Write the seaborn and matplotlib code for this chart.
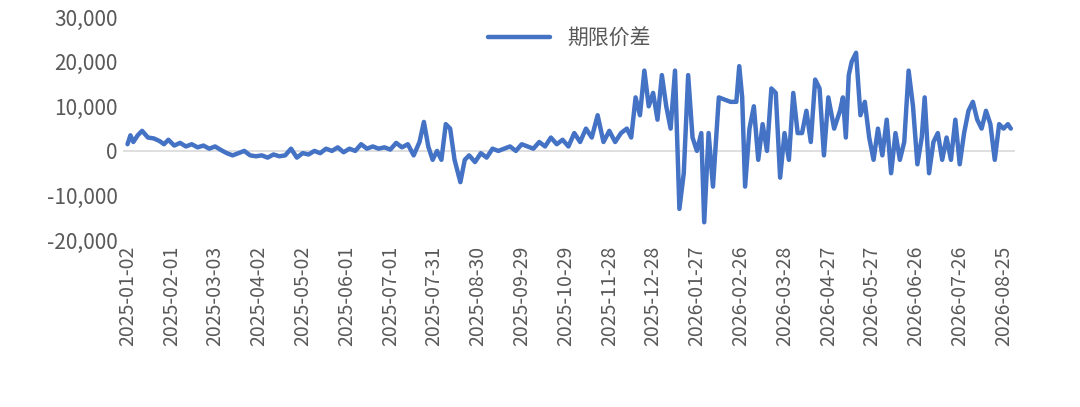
import pandas as pd
import matplotlib
matplotlib.use("Agg")
import matplotlib.pyplot as plt
import seaborn as sns

# day offset from 2025-01-02 and spread value
days = [0, 2, 4, 7, 10, 14, 18, 22, 25, 28, 32, 36, 40, 44, 48, 52, 56, 60, 64, 68,
        72, 76, 80, 84, 88, 92, 96, 100, 104, 108, 112, 116, 120, 124, 128, 132, 136, 140, 144, 148,
        152, 156, 160, 164, 168, 172, 176, 180, 184, 188, 192, 196, 200, 203, 206, 209, 212, 215, 218, 221,
        224, 228, 231, 234, 238, 242, 246, 250, 254, 258, 262, 266, 270, 274, 278, 282, 286, 290, 294, 298,
        302, 306, 310, 314, 318, 322, 326, 330, 334, 338, 342, 345, 348, 351, 354, 357, 360, 363, 366, 369,
        372, 375, 378, 381, 384, 387, 390, 393, 395, 398, 401, 405, 409, 413, 417, 419, 421, 423, 426, 429,
        432, 435, 438, 441, 444, 447, 450, 453, 456, 459, 462, 465, 468, 471, 474, 477, 480, 484, 488, 490,
        492, 494, 496, 499, 502, 505, 508, 511, 514, 517, 520, 523, 526, 529, 532, 535, 538, 541, 544, 546,
        549, 552, 555, 558, 561, 564, 567, 570, 573, 576, 579, 582, 585, 588, 591, 594, 597, 600, 603, 605]
values = [1500, 3500, 2000, 3500, 4500, 3000, 2800, 2200, 1500, 2500, 1200, 1800, 1000, 1500, 800, 1200, 500, 1000, 200, -500,
          -1000, -500, 0, -1000, -1200, -1000, -1500, -800, -1200, -1000, 500, -1500, -500, -800, 0, -500, 500, 0, 800, -300,
          500, 0, 1500, 500, 1000, 500, 800, 300, 1800, 800, 1500, -1000, 2000, 6500, 1000, -2000, 0, -2000, 6000, 5000,
          -2000, -7000, -2000, -1000, -2500, -500, -1500, 500, 0, 500, 1000, 0, 1500, 1000, 500, 2000, 1000, 3000, 1500, 2500,
          1000, 4000, 2000, 5000, 3000, 8000, 2000, 4500, 2000, 4000, 5000, 3000, 12000, 8000, 18000, 10000, 13000, 7000, 17000, 10000,
          5000, 18000, -13000, -5000, 17000, 3000, 0, 4000, -16000, 4000, -8000, 12000, 11500, 11000, 11000, 19000, 12000, -8000, 5000, 10000,
          -2000, 6000, 0, 14000, 13000, -6000, 4000, -2000, 13000, 4000, 4000, 9000, 2000, 16000, 14000, -1000, 12000, 5000, 9000, 12000,
          3000, 17000, 20000, 22000, 8000, 11000, 3000, -2000, 5000, -1000, 7000, -5000, 4000, -2000, 2000, 18000, 10000, -3000, 3000, 12000,
          -5000, 2000, 4000, -2000, 3000, -2000, 7000, -3000, 4000, 9000, 11000, 7000, 5000, 9000, 6000, -2000, 6000, 5000, 6000, 5000]
series_name = "期限价差"
tick_days = list(range(0, 601, 30))

start = pd.Timestamp("2025-01-02")
df = pd.DataFrame({"date": [start + pd.Timedelta(days=d) for d in days], "value": values})
ticks = [start + pd.Timedelta(days=d) for d in tick_days]

sns.set_theme(style="white")
plt.rcParams["font.family"] = ["Noto Sans CJK SC", "DejaVu Sans"]
plt.rcParams["axes.unicode_minus"] = False

fig = plt.figure(figsize=(10.8, 4.07), dpi=100)
ax = fig.add_axes([0.114, 0.41, 0.826, 0.548])
sns.lineplot(data=df, x="date", y="value", ax=ax, color="#4472C4", linewidth=3.2, label=series_name)
ax.axhline(0, color="#D9D9D9", linewidth=1.2, zorder=0)

ax.set_ylim(-20000, 30000)
ax.set_yticks(range(-20000, 30001, 10000))
ax.set_yticklabels([f"{v:,}" for v in range(-20000, 30001, 10000)], fontsize=15, color="#595959")
ax.set_xlim(start - pd.Timedelta(days=3), start + pd.Timedelta(days=608))
ax.set_xticks(ticks)
ax.set_xticklabels([t.strftime("%Y-%m-%d") for t in ticks], rotation=90, fontsize=14, color="#595959")
ax.set_xlabel("")
ax.set_ylabel("")
for s in ax.spines.values():
    s.set_visible(False)
ax.tick_params(length=0, pad=4)
ax.legend(loc="upper center", bbox_to_anchor=(0.5, 1.04), frameon=False, fontsize=15,
          handlelength=3, labelcolor="#595959")

fig.savefig("out.png", dpi=100)
